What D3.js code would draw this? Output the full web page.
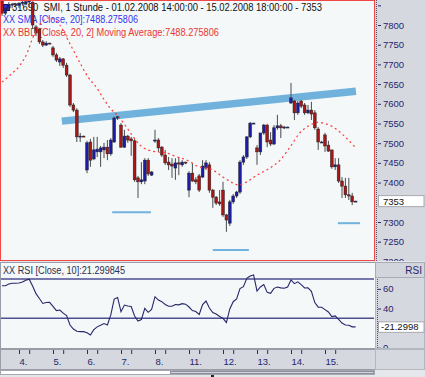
<!DOCTYPE html>
<html>
<head>
<meta charset="utf-8" />
<title>SMI 1 Stunde</title>
<script src="https://d3js.org/d3.v7.min.js"></script>
<style>
  body { margin: 0; background: #e6e7ec; }
  svg { display: block; font-family: "Liberation Sans", Arial, sans-serif; }
  .legend { white-space: pre; }
</style>
</head>
<body>
<svg id="chart" width="425" height="377"></svg>
<script>

// hourly bars 01.02.2008 14:00 - 15.02.2008 18:00 (SMI)
var opens = [7861, 7830, 7843, 7851, 7853, 7850, 7855, 7854, 7859, 7858,
  7795, 7790, 7757, 7749, 7754, 7742, 7724, 7706, 7714, 7698,
  7673, 7597, 7584, 7516, 7518, 7432, 7503, 7460, 7478, 7478,
  7483, 7490, 7473, 7503, 7564, 7546, 7490, 7518, 7511, 7506,
  7412, 7402, 7404, 7457, 7419, 7506, 7508, 7490, 7470, 7452,
  7447, 7437, 7450, 7445, 7452, 7381, 7424, 7407, 7417, 7414,
  7437, 7445, 7381, 7363, 7351, 7381, 7318, 7297, 7351, 7366,
  7376, 7452, 7465, 7516, 7551, 7488, 7478, 7526, 7546, 7508,
  7498, 7539, 7544, 7539, 7541, 7602, 7607, 7577, 7607, 7597,
  7577, 7584, 7577, 7536, 7503, 7521, 7495, 7483, 7440, 7445,
  7404, 7391, 7369, 7366, 7353];
var highs = [7863, 7851, 7858, 7856, 7856, 7858, 7862, 7862, 7863, 7860,
  7800, 7792, 7762, 7759, 7755, 7747, 7729, 7719, 7716, 7704,
  7676, 7602, 7589, 7526, 7519, 7506, 7511, 7516, 7516, 7493,
  7501, 7508, 7513, 7567, 7569, 7551, 7534, 7521, 7516, 7511,
  7417, 7452, 7462, 7462, 7429, 7534, 7513, 7493, 7483, 7465,
  7462, 7462, 7465, 7457, 7453, 7429, 7450, 7414, 7422, 7457,
  7457, 7452, 7384, 7366, 7381, 7402, 7320, 7356, 7371, 7379,
  7457, 7470, 7518, 7554, 7552, 7495, 7526, 7549, 7549, 7528,
  7546, 7572, 7549, 7544, 7542, 7653, 7610, 7607, 7610, 7602,
  7597, 7605, 7584, 7541, 7506, 7526, 7506, 7483, 7462, 7462,
  7414, 7412, 7412, 7374, 7354];
var lows = [7823, 7825, 7838, 7843, 7848, 7843, 7849, 7850, 7846, 7790,
  7772, 7752, 7744, 7747, 7752, 7719, 7706, 7696, 7691, 7668,
  7592, 7579, 7503, 7503, 7516, 7424, 7440, 7457, 7465, 7440,
  7462, 7457, 7468, 7501, 7559, 7488, 7488, 7501, 7468, 7402,
  7361, 7396, 7396, 7417, 7417, 7501, 7478, 7465, 7445, 7432,
  7412, 7407, 7419, 7440, 7447, 7363, 7402, 7396, 7376, 7412,
  7432, 7374, 7336, 7343, 7341, 7313, 7275, 7290, 7346, 7361,
  7371, 7445, 7460, 7513, 7549, 7445, 7470, 7521, 7490, 7493,
  7495, 7534, 7513, 7536, 7540, 7600, 7559, 7572, 7589, 7572,
  7574, 7559, 7534, 7483, 7501, 7478, 7478, 7435, 7432, 7399,
  7361, 7361, 7356, 7343, 7352];
var closes = [7830, 7843, 7851, 7853, 7852, 7855, 7858, 7859, 7861, 7800,
  7780, 7757, 7749, 7754, 7753, 7724, 7711, 7714, 7698, 7673,
  7597, 7584, 7516, 7518, 7517, 7501, 7457, 7483, 7485, 7488,
  7490, 7473, 7508, 7564, 7567, 7490, 7518, 7508, 7506, 7407,
  7402, 7407, 7457, 7422, 7427, 7508, 7488, 7470, 7450, 7445,
  7442, 7450, 7447, 7452, 7450, 7424, 7404, 7402, 7381, 7442,
  7450, 7381, 7363, 7348, 7346, 7318, 7305, 7351, 7366, 7376,
  7452, 7465, 7516, 7551, 7551, 7478, 7526, 7546, 7503, 7498,
  7539, 7544, 7539, 7541, 7541, 7615, 7577, 7602, 7594, 7577,
  7584, 7574, 7539, 7503, 7503, 7493, 7480, 7440, 7445, 7404,
  7391, 7369, 7366, 7351, 7353];

// RSI [Close, 10]
var rsi = [63.2, 63.2, 64.9, 65.6, 65.6, 65.9, 66.9, 68.7, 69.8, 62.9,
  55.1, 50.1, 45.1, 46.1, 46.3, 42.2, 37.8, 38.4, 35.2, 32.7,
  23.2, 19.1, 16.8, 16.4, 16.4, 15.3, 13.0, 18.4, 21.3, 22.9,
  24.6, 23.2, 33.4, 49.6, 51.2, 36.7, 43.5, 42.5, 42.0, 32.3,
  27.3, 28.8, 40.2, 36.1, 39.0, 52.0, 48.6, 46.9, 44.0, 42.2,
  42.2, 44.1, 43.7, 44.9, 44.4, 41.5, 37.9, 36.9, 33.9, 44.0,
  47.6, 40.5, 35.9, 34.4, 31.8, 30.0, 25.7, 39.5, 46.9, 49.6,
  60.3, 62.2, 70.7, 73.1, 74.1, 57.8, 61.9, 64.4, 56.4, 55.4,
  60.5, 61.9, 61.0, 60.6, 61.9, 69.0, 65.3, 67.1, 64.3, 60.9,
  61.1, 57.5, 46.0, 41.3, 41.2, 38.8, 36.4, 31.8, 32.5, 28.9,
  25.2, 23.2, 23.0, 21.3, 21.3];

// moving average, read at bar positions
var maIndex = [0, 2.4, 5.3, 7.4, 8.8, 11, 14, 17, 19.4, 20.9, 23.5, 25.3, 27.9, 29.7, 31.8,
  33.8, 36.2, 38.2, 40.6, 42.9, 45.6, 48.5, 51.5, 54.4, 57.4, 62, 65, 67.9, 69.4, 72,
  75, 78.8, 81.8, 84.7, 87.6, 90.6, 92.9, 94.4, 97.4, 100.3, 103.8];
var maValue = [7655, 7673, 7698, 7729, 7762, 7800, 7818, 7800, 7762, 7737, 7695, 7668, 7640, 7615, 7589,
  7572, 7546, 7521, 7495, 7483, 7478, 7475, 7465, 7457, 7442, 7432, 7414, 7399, 7394, 7402,
  7419, 7437, 7457, 7490, 7526, 7546, 7553, 7551, 7541, 7521, 7490];

var dayLabels = ["4.", "5.", "6.", "7.", "8.", "11.", "12.", "13.", "14.", "15."];
var dayStart = [5, 15, 25, 35, 45, 55, 65, 75, 85, 95];
var priceTicks = [7850, 7800, 7750, 7700, 7650, 7600, 7550, 7500, 7450, 7400, 7300, 7250, 7200];
var rsiTicks = [60, 40, 0];
var rsiLevels = [70, 30];

// hand drawn lines: [bar index, price]
var trendLine = [[17.6, 7556], [104.1, 7632]];
var supportLines = [
  [[32.4, 7325], [43.8, 7325]],
  [[62.0, 7229], [72.6, 7229]],
  [[98.8, 7297], [105.3, 7297]]
];

var lastPrice = 7353;
var lastRsi = 21.2998;

var svg = d3.select("#chart");

var x = d3.scaleLinear().domain([0, closes.length - 1]).range([2, 355.6]);
var y = d3.scaleLinear().domain([7200, 7800]).range([261.4, 25]);
var yRsi = d3.scaleLinear().domain([30, 70]).range([318.3, 279]);

var panelBg = "#f4f8f8";
var axisBg = "#d5d8df";

// clip paths
var defs = svg.append("defs");
defs.append("clipPath").attr("id", "clipMain")
  .append("rect").attr("x", 1).attr("y", 1).attr("width", 373).attr("height", 259);
defs.append("clipPath").attr("id", "clipRsi")
  .append("rect").attr("x", 1).attr("y", 263).attr("width", 373).attr("height", 85);
defs.append("clipPath").attr("id", "clipPriceAxis")
  .append("rect").attr("x", 376).attr("y", 0).attr("width", 49).attr("height", 261);
defs.append("clipPath").attr("id", "clipRsiAxis")
  .append("rect").attr("x", 376).attr("y", 279).attr("width", 49).attr("height", 69);

// panels
svg.append("rect").attr("x", 375).attr("y", 0).attr("width", 50).attr("height", 261)
  .attr("fill", axisBg);
svg.append("rect").attr("x", 0.5).attr("y", 0.5).attr("width", 374).attr("height", 260)
  .attr("fill", panelBg).attr("stroke", "#f04848").attr("shape-rendering", "crispEdges");

svg.append("rect").attr("x", 0.5).attr("y", 262.5).attr("width", 374.5).attr("height", 86)
  .attr("fill", panelBg).attr("stroke", "#9c9ca8").attr("shape-rendering", "crispEdges");
svg.append("rect").attr("x", 375.5).attr("y", 262.5).attr("width", 49).attr("height", 86)
  .attr("fill", axisBg).attr("stroke", "#b4b6c0").attr("shape-rendering", "crispEdges");
svg.append("rect").attr("x", 375.5).attr("y", 262.5).attr("width", 49).attr("height", 15)
  .attr("fill", "#d2d5dc").attr("stroke", "#a8aab4").attr("shape-rendering", "crispEdges");

svg.append("rect").attr("x", 0.5).attr("y", 349.5).attr("width", 374.5).attr("height", 20)
  .attr("fill", axisBg).attr("stroke", "#9c9ca8").attr("shape-rendering", "crispEdges");
svg.append("rect").attr("x", 375.5).attr("y", 349.5).attr("width", 49).attr("height", 20)
  .attr("fill", axisBg).attr("stroke", "#b4b6c0").attr("shape-rendering", "crispEdges");

// scroll bar
svg.append("rect").attr("x", 0.5).attr("y", 370.5).attr("width", 374).attr("height", 4)
  .attr("fill", "#ffffff").attr("stroke", "#a4a6b0").attr("shape-rendering", "crispEdges");
svg.append("rect").attr("x", 170.5).attr("y", 371.5).attr("width", 203).attr("height", 2)
  .attr("fill", "#d0d3da").attr("stroke", "#8e90a0").attr("shape-rendering", "crispEdges");
svg.append("rect").attr("x", 211).attr("y", 375).attr("width", 3).attr("height", 2)
  .attr("fill", "#222");

// legend text of the price panel
var legend = svg.append("g").attr("font-size", "10px");
legend.append("rect").attr("x", 3.5).attr("y", 4.5).attr("width", 6).attr("height", 6)
  .attr("fill", "#2424c8").attr("stroke", "#10106a");
legend.append("text").attr("class", "legend").attr("x", 12).attr("y", 11)
  .attr("fill", "#111")
  .attr("textLength", 310).attr("lengthAdjust", "spacingAndGlyphs")
  .text("31690  SMI, 1 Stunde - 01.02.2008 14:00:00 - 15.02.2008 18:00:00 - 7353");
legend.append("text").attr("class", "legend").attr("x", 3).attr("y", 23)
  .attr("fill", "#3434ec")
  .attr("textLength", 135).attr("lengthAdjust", "spacingAndGlyphs")
  .text("XX SMA [Close, 20]:7488.275806");
legend.append("text").attr("class", "legend").attr("x", 3).attr("y", 35.5)
  .attr("fill", "#ec3434")
  .attr("textLength", 216).attr("lengthAdjust", "spacingAndGlyphs")
  .text("XX BBD [Close, 20, 2] Moving Average:7488.275806");

// drawings
var plot = svg.append("g").attr("clip-path", "url(#clipMain)");
var drawLine = d3.line()
  .x(function(d) { return x(d[0]); })
  .y(function(d) { return y(d[1]); });

plot.append("path").datum(trendLine)
  .attr("d", drawLine)
  .attr("fill", "none")
  .attr("stroke", "#70b2dc")
  .attr("stroke-width", 7.5);

plot.selectAll(".support").data(supportLines).enter().append("path")
  .attr("class", "support")
  .attr("d", drawLine)
  .attr("fill", "none")
  .attr("stroke", "#72b2de")
  .attr("stroke-width", 2);

// candles
var bars = d3.range(closes.length).map(function(i) {
  return { i: i, o: opens[i], h: highs[i], l: lows[i], c: closes[i] };
});

var candle = plot.selectAll(".candle").data(bars).enter().append("g")
  .attr("class", "candle");

candle.append("line")
  .attr("x1", function(d) { return x(d.i); })
  .attr("x2", function(d) { return x(d.i); })
  .attr("y1", function(d) { return y(d.h); })
  .attr("y2", function(d) { return y(d.l); })
  .attr("stroke", "#4a4a4e")
  .attr("stroke-width", 1);

candle.append("rect")
  .attr("x", function(d) { return x(d.i) - 1.4; })
  .attr("width", 2.8)
  .attr("y", function(d) { return y(Math.max(d.o, d.c)); })
  .attr("height", function(d) { return Math.max(1, Math.abs(y(d.o) - y(d.c))); })
  .attr("fill", function(d) { return d.c >= d.o ? "#1c1ca8" : "#aa1616"; })
  .attr("stroke", "#242424")
  .attr("stroke-width", 0.5);

// moving average
var maLine = d3.line()
  .x(function(d, k) { return x(maIndex[k]); })
  .y(function(d) { return y(d); })
  .curve(d3.curveMonotoneX);

plot.append("path").datum(maValue)
  .attr("d", maLine)
  .attr("fill", "none")
  .attr("stroke", "#ff3a3a")
  .attr("stroke-width", 1.2)
  .attr("stroke-dasharray", "2,3");

// price axis
svg.append("line").attr("x1", 376.5).attr("x2", 376.5).attr("y1", 0).attr("y2", 261)
  .attr("stroke", "#55586a").attr("stroke-dasharray", "1,1");

var yAxis = d3.axisRight(y)
  .tickValues(priceTicks)
  .tickSize(3).tickSizeOuter(0).tickPadding(2)
  .tickFormat(function(d) { return d > 7800 ? "" : d; });

var gy = svg.append("g")
  .attr("clip-path", "url(#clipPriceAxis)")
  .append("g")
  .attr("transform", "translate(378,0)")
  .call(yAxis);
gy.select(".domain").remove();
gy.selectAll("line").attr("stroke", "#2a2a70");
gy.selectAll("text").attr("fill", "#26266e").attr("font-size", "9.5px")
  .attr("font-family", "Liberation Sans, Arial, sans-serif");

svg.append("rect").attr("x", 378.5).attr("y", y(lastPrice) - 5.5)
  .attr("width", 45.5).attr("height", 11)
  .attr("fill", "#ffffff").attr("stroke", "#a8a8b0");
svg.append("text").attr("x", 383).attr("y", y(lastPrice) + 3.5)
  .attr("font-size", "9.5px").attr("fill", "#111")
  .text(lastPrice);

// RSI panel
svg.append("text").attr("x", 3).attr("y", 273.5)
  .attr("font-size", "10px").attr("fill", "#2e2e4e")
  .attr("textLength", 122).attr("lengthAdjust", "spacingAndGlyphs")
  .text("XX RSI [Close, 10]:21.299845");

var rsiG = svg.append("g").attr("clip-path", "url(#clipRsi)");

rsiG.selectAll(".level").data(rsiLevels).enter().append("line")
  .attr("class", "level")
  .attr("x1", 0).attr("x2", 375)
  .attr("y1", function(d) { return yRsi(d); })
  .attr("y2", function(d) { return yRsi(d); })
  .attr("stroke", "#4e4e92")
  .attr("stroke-width", 1.5);

var rsiLine = d3.line()
  .x(function(d, i) { return x(i); })
  .y(function(d) { return yRsi(d); });

rsiG.append("path").datum(rsi)
  .attr("d", rsiLine)
  .attr("fill", "none")
  .attr("stroke", "#26266a")
  .attr("stroke-width", 1.1);

svg.append("text").attr("x", 422).attr("y", 274)
  .attr("text-anchor", "end")
  .attr("font-size", "10px").attr("fill", "#26266e")
  .text("RSI");

svg.append("line").attr("x1", 377.5).attr("x2", 377.5).attr("y1", 279).attr("y2", 348)
  .attr("stroke", "#55586a").attr("stroke-dasharray", "1,1");

var rAxis = d3.axisRight(yRsi)
  .tickValues(rsiTicks)
  .tickSize(3).tickSizeOuter(0).tickPadding(2);

var gr = svg.append("g")
  .attr("clip-path", "url(#clipRsiAxis)")
  .append("g")
  .attr("transform", "translate(378,0)")
  .call(rAxis);
gr.select(".domain").remove();
gr.selectAll("line").attr("stroke", "#2a2a70");
gr.selectAll("text").attr("fill", "#26266e").attr("font-size", "9.5px")
  .attr("font-family", "Liberation Sans, Arial, sans-serif");

svg.append("rect").attr("x", 378.5).attr("y", yRsi(lastRsi) - 5)
  .attr("width", 45.5).attr("height", 10.5)
  .attr("fill", "#ffffff").attr("stroke", "#a8a8b0");
svg.append("text").attr("x", 381).attr("y", yRsi(lastRsi) + 3.5)
  .attr("font-size", "9.5px").attr("fill", "#111")
  .text("-" + lastRsi);

// time axis
var tickIdx = [];
dayStart.forEach(function(d) { tickIdx.push(d); tickIdx.push(d + 3); });

var xAxis = d3.axisBottom(x)
  .tickValues(tickIdx)
  .tickSize(4).tickSizeOuter(0).tickPadding(4)
  .tickFormat(function(d) {
    var k = dayStart.indexOf(d);
    return k >= 0 ? dayLabels[k] : "";
  });

var gx = svg.append("g")
  .attr("transform", "translate(0,350)")
  .call(xAxis);
gx.select(".domain").remove();
gx.selectAll("line").attr("stroke", "#2a2a70");
gx.selectAll("text")
  .attr("text-anchor", "start")
  .attr("fill", "#26266e")
  .attr("font-size", "9.5px")
  .attr("font-family", "Liberation Sans, Arial, sans-serif");

</script>
</body>
</html>
